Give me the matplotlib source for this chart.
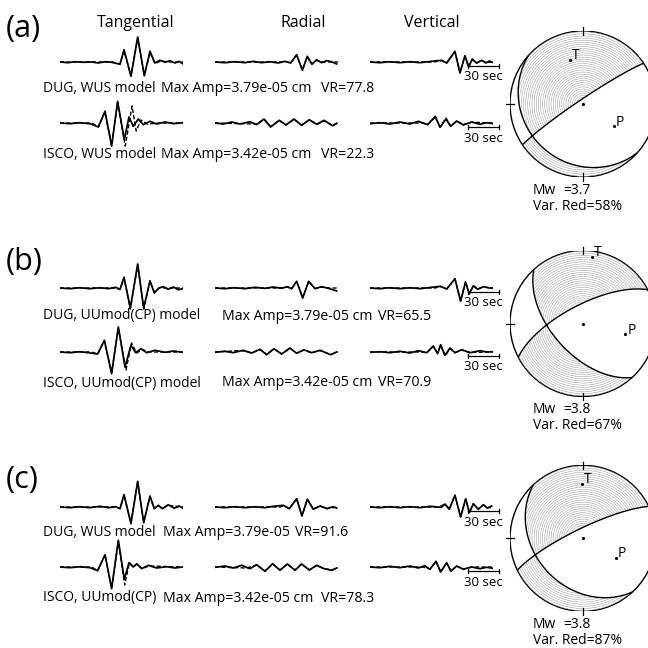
import numpy as np
import matplotlib
matplotlib.use("Agg")
import matplotlib.pyplot as plt
from matplotlib.patches import Circle

# ---- waveform data (time in s, amplitude in plot units; obs = solid, syn = dashed) ----
# panel (a)
a_dug_tan_t = [0, 7.9, 14.3, 22.2, 30.1, 36.4, 42.8, 49.1, 57.1, 60.9, 67.5, 73.9, 80.2, 85.6, 90.3, 95.1, 99.9, 104.6, 109.4, 113.2, 116.7]
a_dug_tan_obs = [0, -0.7, 0.3, -0.3, 0, -1, 0.3, -0.3, -2.3, 12.3, -14.3, 25, -13.7, 10.7, -1, 1.7, -0.3, 1.3, -1, 0.7, -1.7]
a_dug_tan_syn_t = [0, 50, 57, 60.9, 67.5, 73.9, 80.2, 85.6, 90.3, 96, 104, 117]
a_dug_tan_syn = [0, 0, -2, 11, -13.5, 23.5, -13, 9.5, -1.5, 1, 0, 0]
a_isco_tan_t = [0, 9.5, 19, 28.5, 36.5, 42.8, 49.1, 54.8, 61.2, 65.6, 69.7, 74.5, 79.3, 85.6, 91.9, 99.9, 107.8, 116.7]
a_isco_tan_obs = [0, -0.7, 0.3, -0.7, -4, 11.7, -23.3, 21.7, -16.7, 6, -3.3, 4, -1.7, 1.7, -1, 1, -0.7, 0.3]
a_isco_tan_syn_t = [0, 30, 36.5, 42.8, 49.1, 54.8, 62.1, 68.5, 72.5, 77, 83, 95, 117]
a_isco_tan_syn = [0, 0, -3.5, 10.7, -21.7, 20, -23, 17, -8, 3, -1, 0, 0]
a_dug_rad_t = [0, 9.5, 19, 28.5, 36.5, 44.4, 52.3, 60.2, 66.6, 72, 77.7, 83.1, 87.8, 92.2, 96.7, 101.4, 106.2, 110.9, 115.7]
a_dug_rad_obs = [0, -0.7, 0.3, -0.7, 0.7, -0.7, 0.3, -1, 0.7, -1, 7.3, -8.3, 5.7, -2.3, 2.3, -0.7, 1.3, 0.3, -2]
a_dug_rad_syn_t = [0, 60, 66.6, 72, 77.7, 83.1, 87.8, 92.2, 96.7, 103, 117]
a_dug_rad_syn = [0, 0, 0.5, -1, 6.5, -7.8, 5.2, -1.8, 1.5, 0, 0]
a_isco_rad_t = [0, 7.9, 15.9, 23.8, 33.3, 39.6, 46.6, 52.9, 61.2, 67.5, 75.1, 82.4, 89.7, 96.7, 103.7, 111.9, 115.7]
a_isco_rad_obs = [0, -1, 1, -1, 1.3, -1.7, 4, -4, 2.7, -2, 4, -2.3, 3.3, -1.3, 2.7, -2.7, -0.3]
a_isco_rad_syn_t = [0, 40, 46.6, 52.9, 61.2, 67.5, 75.1, 82.4, 89.7, 96.7, 104, 112, 117]
a_isco_rad_syn = [0, -1, 3.5, -3.5, 2.3, -2, 3.5, -2, 3, -1.3, 2, -2.5, 0]
a_dug_ver_t = [0, 9.5, 19, 28.5, 38, 47.6, 57, 68.2, 72.9, 80.8, 85.6, 90.3, 93.8, 97.3, 101.4, 106.2, 110.3, 113.5, 117]
a_dug_ver_obs = [0, -0.7, 0.3, -0.7, 0.3, -0.7, 0.5, 1.7, -1, 10.7, -11, 6.3, -5, 3, -1, 1.7, -1, 1, -0.5]
a_dug_ver_syn_t = [0, 60, 68.2, 72.9, 80.8, 85.6, 90.3, 93.8, 97.3, 101.4, 106.2, 110.3, 117]
a_dug_ver_syn = [0, 0, 1.3, -1, 10, -10.5, 6, -4.5, 2.5, -1, 1.3, -0.5, 0]
a_isco_ver_t = [0, 9.5, 19, 28.5, 38, 46, 54.8, 62.1, 66.6, 72.3, 76.7, 82.4, 88.8, 96.7, 104.6, 110.9, 117]
a_isco_ver_obs = [-0.7, 0.3, -1, 1, -1, 1.7, -1.7, 6.7, -4.3, 4, -3.3, 2, -2, 1, -1.3, 0.3, -0.7]
a_isco_ver_syn_t = [0, 50, 54.8, 62.1, 66.6, 72.3, 76.7, 82.4, 88.8, 96.7, 117]
a_isco_ver_syn = [0, 0, -1.5, 5.5, -4, 5, -3.5, 2, -1.5, 0.7, 0]

# panel (b)
b_dug_tan_t = [0, 9.5, 19, 28.5, 38, 46, 52.9, 57.1, 60.9, 66.9, 73.9, 79.6, 85.6, 89.7, 94.1, 98.3, 103, 107.8, 112.5, 116.7]
b_dug_tan_obs = [0, -0.7, 0.3, -0.7, 0.3, -0.7, 0.7, -1.3, 10.7, -20, 24, -20, 7.3, -5, 0, 1.3, -1.3, 1, -1.7, -0.7]
b_dug_tan_syn_t = [0, 52, 57, 60.9, 66.9, 73.9, 79.6, 85.6, 89.7, 95, 100, 117]
b_dug_tan_syn = [0, 0, -1.5, 10, -21, 23, -21, 6.5, -4, 0.5, 0, 0]
b_isco_tan_t = [0, 9.5, 19, 26.9, 35.8, 42.2, 49.1, 55.5, 61.8, 67.5, 71.9, 77, 82.4, 90.3, 99.9, 107.8, 116.7]
b_isco_tan_obs = [0, -0.7, 0.3, -0.7, -2, 11.7, -21.7, 25, -15, 6.7, -0.7, 3.3, -0.7, 1.7, -0.3, 1, -0.3]
b_isco_tan_syn_t = [0, 30, 35.8, 42.2, 49.1, 55.5, 62.8, 68, 73, 78, 85, 100, 117]
b_isco_tan_syn = [0, 0, -2, 11, -20.5, 24, -18, 9, -1, 2.5, 0, 0, 0]
b_dug_rad_t = [0, 9.5, 19, 28.5, 38, 47.6, 55.5, 63.4, 68.8, 72.9, 77.7, 83.4, 89.1, 95.1, 101.4, 107.8, 115.7]
b_dug_rad_obs = [0, -0.7, 0.3, -0.7, 0.7, -0.3, 1, -0.3, 1.3, -0.7, 6.7, -10, 6.7, -0.7, 1.3, -0.3, -3]
b_dug_rad_syn_t = [0, 62, 68.8, 72.9, 77.7, 83.4, 89.1, 95.1, 101.4, 108, 117]
b_dug_rad_syn = [0, 0, 1, -0.5, 6.5, -9.5, 6.5, -0.5, 1, 0, 0]
b_isco_rad_t = [0, 9.5, 17.4, 26.9, 34.9, 42.8, 49.1, 56.1, 63.4, 71.3, 77.7, 84.6, 91.9, 99.9, 110, 115.7]
b_isco_rad_obs = [-0.3, 0.7, -0.7, 1.7, -1, 2.7, -2.7, 3.3, -2, 4, -1.3, 2.3, -0.7, 1.7, -2.7, 0]
b_isco_rad_syn_t = [0, 25, 34.9, 42.8, 49.1, 56.1, 63.4, 71.3, 77.7, 84.6, 91.9, 99.9, 110, 117]
b_isco_rad_syn = [0, 1.5, -1, 2.5, -2.5, 3, -2, 3.7, -1.3, 2, -0.7, 1.5, -2.5, 0]
b_dug_ver_t = [0, 9.5, 19, 28.5, 38, 47.6, 57, 67, 73, 80.8, 86.2, 90.9, 94.4, 98.3, 102.4, 107.8, 113.5, 117]
b_dug_ver_obs = [0, -0.7, 0.3, -0.7, 0.3, -0.7, 0.5, 1.7, -1, 9.3, -13.3, 6, -6, 2.3, -1.3, 1.3, 0, 0]
b_dug_ver_syn_t = [0, 62, 67, 73, 80.8, 86.2, 90.9, 94.4, 98.3, 102.4, 107.8, 117]
b_dug_ver_syn = [0, 0, 1.5, -1, 9, -12.5, 6.5, -5.5, 2, -1, 1, 0]
b_isco_ver_t = [0, 9.5, 19, 28.5, 38, 46, 53.9, 60.2, 64.3, 67.2, 71.3, 76.1, 80.8, 87.2, 95.1, 104.6, 110.9, 117]
b_isco_ver_obs = [-0.3, 0.3, -0.7, 0.7, -1, 1.3, -0.7, 6, -1.7, 7.3, -3.3, 4, -0.7, 2.3, -0.7, 1.3, 0, 0.3]
b_isco_ver_syn_t = [0, 50, 53.9, 60.2, 64.3, 67.2, 71.3, 76.1, 80.8, 87.2, 95.1, 117]
b_isco_ver_syn = [0, 0, -0.7, 5.5, -1, 7, -4, 3.5, -0.7, 2, -0.5, 0]

# panel (c)
c_dug_tan_t = [0, 9.5, 19, 28.5, 38, 46, 53.3, 57.1, 60.9, 67.5, 73.9, 79.6, 85.6, 89.7, 93.5, 97.3, 103, 108.7, 113.2, 116.7]
c_dug_tan_obs = [0, -0.7, 0.3, -0.7, 0.7, -0.7, 0.3, -1.7, 12.3, -16.7, 25.7, -15.7, 11, -1.7, 1.7, -1.7, 2.3, -1.3, 1, -1]
c_dug_tan_syn_t = [0, 52, 57.1, 60.9, 67.5, 73.9, 79.6, 85.6, 89.7, 93.5, 97.3, 103, 117]
c_dug_tan_syn = [0, 0, -1.5, 12, -16, 25, -15.5, 10.5, -1.5, 1.5, -1.5, 1.5, 0]
c_isco_tan_t = [0, 9.5, 19, 28.5, 35.8, 42.8, 49.1, 55.5, 61.2, 65.6, 69.7, 72.9, 77.7, 84, 91.9, 101.4, 109.4, 116.7]
c_isco_tan_obs = [0, -0.7, 0.3, -0.7, -3.7, 12.3, -21.7, 26.7, -12.3, 4.3, 0, 3.3, -1.7, 1.7, -1, 0.3, -1, 0]
c_isco_tan_syn_t = [0, 30, 35.8, 42.8, 49.1, 55.5, 61.5, 66, 70, 73, 78, 85, 117]
c_isco_tan_syn = [0, 0, -3.5, 12, -21, 26, -18, 4.3, 0, 3, -1.5, 1, 0]
c_dug_rad_t = [0, 9.5, 19, 28.5, 38, 47.6, 55.5, 65, 70.7, 77.7, 82.7, 87.8, 93.5, 99.9, 106.8, 111.9, 115.7]
c_dug_rad_obs = [0, -0.7, 0.3, -0.7, 0.3, -0.7, 0.7, 1.7, -1.7, 8.3, -9, 7.7, -2.3, 1, -1.7, 0.3, -1]
c_dug_rad_syn_t = [0, 62, 65, 70.7, 77.7, 82.7, 87.8, 93.5, 99.9, 106.8, 117]
c_dug_rad_syn = [0, 0, 1.5, -1.5, 8, -8.7, 7.5, -2, 1, -1.5, 0]
c_isco_rad_t = [0, 9.5, 17.4, 25.4, 33.3, 39.6, 47.6, 54.8, 61.8, 68.8, 76.1, 82.4, 89.7, 96.7, 103.7, 111, 115.7]
c_isco_rad_obs = [-0.3, 1, -1, 1.7, -1.7, 2.3, -4.3, 3.3, -3.3, 3, -3.3, 3, -3, 1.7, -1.7, -3.3, -1]
c_isco_rad_syn_t = [0, 30, 39.6, 47.6, 54.8, 61.8, 68.8, 76.1, 82.4, 89.7, 96.7, 103.7, 111, 117]
c_isco_rad_syn = [0, -1, 2, -4, 3, -3, 3, -3, 3, -3, 1.5, -1.5, -3, -1]
c_dug_ver_t = [0, 9.5, 19, 28.5, 38, 47.6, 57, 68, 71.3, 75.4, 80.8, 86.2, 91, 94.5, 98.3, 103, 107.8, 111.6, 115.7]
c_dug_ver_obs = [0, -0.7, 0.3, -0.7, 0.3, -0.7, 0.7, -0.3, 3, -2.3, 11.7, -10, 8.3, -5.7, 3.3, -2.3, 2.3, -1, 1]
c_dug_ver_syn_t = [0, 65, 71.3, 75.4, 80.8, 86.2, 91, 94.5, 98.3, 103, 107.8, 111.6, 117]
c_dug_ver_syn = [0, 0, 2.7, -2, 11.5, -10, 8, -5.5, 3, -2, 2, -1, 0]
c_isco_ver_t = [0, 9.5, 19, 28.5, 38, 46, 52, 57, 62.8, 67.2, 72.9, 77, 82.4, 88.8, 96.7, 104.6, 110.9, 117]
c_isco_ver_obs = [0, -0.7, 0.7, -0.7, 1, -1, 1.3, -2.3, 5.7, -5, 4.3, -4.3, 1, -2.3, 0, -1.7, -0.3, -1.3]
c_isco_ver_syn_t = [0, 50, 57, 62.8, 67.2, 72.9, 77, 82.4, 88.8, 96.7, 117]
c_isco_ver_syn = [0, 0, -2, 5.5, -4.8, 4, -4, 1, -2, 0, 0]

# ---- labels ----
panel_labels = ["(a)", "(b)", "(c)"]
components = ["Tangential", "Radial", "Vertical"]
station_labels = [["DUG, WUS model", "ISCO, WUS model"],
                  ["DUG, UUmod(CP) model", "ISCO, UUmod(CP) model"],
                  ["DUG, WUS model", "ISCO, UUmod(CP)"]]
amp_labels = [["Max Amp=3.79e-05 cm", "Max Amp=3.42e-05 cm"],
              ["Max Amp=3.79e-05 cm", "Max Amp=3.42e-05 cm"],
              ["Max Amp=3.79e-05", "Max Amp=3.42e-05 cm"]]
vr_labels = [["VR=77.8", "VR=22.3"], ["VR=65.5", "VR=70.9"], ["VR=91.6", "VR=78.3"]]

# ---- focal mechanisms: T and P axes (azimuth, plunge in degrees) ----
t_azimuth = [343, 7.4, 359]
t_plunge = [37, 8.5, 27]
p_azimuth = [126, 105.6, 120]
p_plunge = [47, 40, 47]
mw_values = ["=3.7", "=3.8", "=3.8"]
var_red = ["Var. Red=58%", "Var. Red=67%", "Var. Red=87%"]

plt.rcParams['font.family'] = ['Open Sans', 'DejaVu Sans']

W = H = 648
fig = plt.figure(figsize=(6.48, 6.48), dpi=100)
canvas = fig.add_axes([0, 0, 1, 1])
canvas.set_xlim(0, W)
canvas.set_ylim(H, 0)
canvas.axis('off')

traces = {
    "a": [[(a_dug_tan_t, a_dug_tan_obs, a_dug_tan_syn_t, a_dug_tan_syn),
           (a_dug_rad_t, a_dug_rad_obs, a_dug_rad_syn_t, a_dug_rad_syn),
           (a_dug_ver_t, a_dug_ver_obs, a_dug_ver_syn_t, a_dug_ver_syn)],
          [(a_isco_tan_t, a_isco_tan_obs, a_isco_tan_syn_t, a_isco_tan_syn),
           (a_isco_rad_t, a_isco_rad_obs, a_isco_rad_syn_t, a_isco_rad_syn),
           (a_isco_ver_t, a_isco_ver_obs, a_isco_ver_syn_t, a_isco_ver_syn)]],
    "b": [[(b_dug_tan_t, b_dug_tan_obs, b_dug_tan_syn_t, b_dug_tan_syn),
           (b_dug_rad_t, b_dug_rad_obs, b_dug_rad_syn_t, b_dug_rad_syn),
           (b_dug_ver_t, b_dug_ver_obs, b_dug_ver_syn_t, b_dug_ver_syn)],
          [(b_isco_tan_t, b_isco_tan_obs, b_isco_tan_syn_t, b_isco_tan_syn),
           (b_isco_rad_t, b_isco_rad_obs, b_isco_rad_syn_t, b_isco_rad_syn),
           (b_isco_ver_t, b_isco_ver_obs, b_isco_ver_syn_t, b_isco_ver_syn)]],
    "c": [[(c_dug_tan_t, c_dug_tan_obs, c_dug_tan_syn_t, c_dug_tan_syn),
           (c_dug_rad_t, c_dug_rad_obs, c_dug_rad_syn_t, c_dug_rad_syn),
           (c_dug_ver_t, c_dug_ver_obs, c_dug_ver_syn_t, c_dug_ver_syn)],
          [(c_isco_tan_t, c_isco_tan_obs, c_isco_tan_syn_t, c_isco_tan_syn),
           (c_isco_rad_t, c_isco_rad_obs, c_isco_rad_syn_t, c_isco_rad_syn),
           (c_isco_ver_t, c_isco_ver_obs, c_isco_ver_syn_t, c_isco_ver_syn)]],
}

# layout (pixels)
trace_x0 = [60, 215, 370]
trace_w = 123
baselines = [[62, 123], [288, 352], [507, 567]]
text_y = [[88, 155], [316, 383], [533, 598]]
amp_x = [[161, 161], [222, 222], [163, 163]]
vr_x = [[321, 321], [378, 378], [295, 321]]
label_y = [29, 262, 480]
ball_cy = [104, 323.5, 538.3]
ball_cx = 583
ball_r = 73


def add_trace(x0, base, t_obs, a_obs, t_syn, a_syn, bar=False):
    ax = fig.add_axes([x0 / W, 1 - (base + 30) / H, trace_w / W, 60 / H])
    ax.set_xlim(0, 117)
    ax.set_ylim(-30, 30)
    ax.axis('off')
    ax.plot(t_syn, a_syn, color='k', lw=1.0, ls=(0, (3, 1.6)))
    ax.plot(t_obs, a_obs, color='k', lw=1.25, solid_joinstyle='round')
    if bar:
        ax.plot([93, 123], [-4, -4], color='k', lw=0.9, clip_on=False)
        for tb in (93, 123):
            ax.plot([tb, tb], [-6, -2], color='k', lw=0.9, clip_on=False)
        ax.text(108, -15, "30 sec", ha='center', va='center', fontsize=9.5)


def unit_vec(az, pl):
    az, pl = np.radians(az), np.radians(pl)
    return np.array([np.cos(pl) * np.cos(az), np.cos(pl) * np.sin(az), np.sin(pl)])


def project(v):
    if v[2] < 0:
        v = -v
    theta = np.arccos(np.clip(v[2], -1, 1))
    r = np.sqrt(2) * np.sin(theta / 2)
    az = np.arctan2(v[1], v[0])
    return r * np.sin(az), r * np.cos(az)


def beachball(i):
    cy = ball_cy[i]
    ax = fig.add_axes([(ball_cx - ball_r) / W, 1 - (cy + ball_r) / H,
                       2 * ball_r / W, 2 * ball_r / H])
    ax.set_xlim(-1, 1)
    ax.set_ylim(-1, 1)
    ax.axis('off')
    T = unit_vec(t_azimuth[i], t_plunge[i])
    P = unit_vec(p_azimuth[i], p_plunge[i])
    B = np.cross(T, P)
    B /= np.linalg.norm(B)
    P = np.cross(B, T)
    M = np.outer(T, T) - np.outer(P, P)

    g = np.linspace(-1, 1, 601)
    X, Y = np.meshgrid(g, g)
    R = np.hypot(X, Y)
    inside = R <= 1.0
    theta = 2 * np.arcsin(np.clip(R / np.sqrt(2), 0, 1))
    az = np.arctan2(X, Y)
    V = np.stack([np.sin(theta) * np.cos(az), np.sin(theta) * np.sin(az), np.cos(theta)])
    amp = np.einsum('i...,ij,j...->...', V, M, V)
    amp = np.where(inside, amp, np.nan)
    shade = np.where(inside & (amp > 0), R, np.nan)
    ax.contour(X, Y, shade, levels=np.linspace(0.03, 0.99, 34),
               colors='0.6', linewidths=0.35)
    ax.contour(X, Y, amp, levels=[0], colors='k', linewidths=1.0)
    ax.add_patch(Circle((0, 0), 1, fill=False, lw=1.0, color='k'))
    for dx, dy in ((0, 1), (0, -1), (1, 0), (-1, 0)):
        ax.plot([dx * 0.95, dx * 1.05], [dy * 0.95, dy * 1.05],
                color='k', lw=0.9, clip_on=False)
    ax.plot(0, 0, 'k.', ms=2.5)
    tx, ty = project(T)
    px, py = project(P)
    ax.plot(tx, ty, 'k.', ms=2.5)
    ax.plot(px, py, 'k.', ms=2.5)
    ax.text(tx + 0.03, ty + 0.06, "T", fontsize=10, ha='left', va='center')
    ax.text(px + 0.03, py + 0.06, "P", fontsize=10, ha='left', va='center')

    canvas.text(533, cy + 86, "Mw", fontsize=10, ha='left', va='center')
    canvas.text(563, cy + 86, mw_values[i], fontsize=10, ha='left', va='center')
    canvas.text(533, cy + 102, var_red[i], fontsize=10, ha='left', va='center')


for j, x in zip(range(3), [136, 303, 432]):
    canvas.text(x, 23, components[j], fontsize=11.5, ha='center', va='center')

for i, key in enumerate("abc"):
    canvas.text(6, label_y[i], panel_labels[i], fontsize=22, ha='left', va='center')
    for s in range(2):
        for c in range(3):
            t_obs, a_obs, t_syn, a_syn = traces[key][s][c]
            add_trace(trace_x0[c], baselines[i][s], t_obs, a_obs, t_syn, a_syn, bar=(c == 2))
        canvas.text(43, text_y[i][s], station_labels[i][s], fontsize=10, ha='left', va='center')
        canvas.text(amp_x[i][s], text_y[i][s], amp_labels[i][s], fontsize=10.2, ha='left', va='center')
        canvas.text(vr_x[i][s], text_y[i][s], vr_labels[i][s], fontsize=10.2, ha='left', va='center')
    beachball(i)

fig.savefig("out.png", dpi=100)
